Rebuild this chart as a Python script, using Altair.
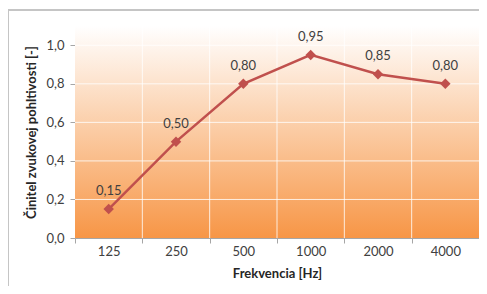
import altair as alt
import pandas as pd

freqs = ["125", "250", "500", "1000", "2000", "4000"]
alpha = [0.15, 0.50, 0.80, 0.95, 0.85, 0.80]
y_ticks = [0.0, 0.2, 0.4, 0.6, 0.8, 1.0]

df = pd.DataFrame({"f": freqs, "a": alpha})
grid_y = pd.DataFrame({"v": y_ticks[1:]})
grid_x = pd.DataFrame({"f": freqs[1:]})

W, H = 404, 212
FONT = "Lato"
TXT = "#404040"
LINE = "#c0504d"

xscale = alt.Scale(domain=freqs, paddingInner=0, paddingOuter=0)
yscale = alt.Scale(domain=[0, 1.1], nice=False)

bg = alt.Chart(df).mark_rect(
    fill=alt.LinearGradient(
        gradient="linear", x1=0, x2=0, y1=0, y2=1,
        stops=[alt.GradientStop(offset=0, color="#ffffff"),
               alt.GradientStop(offset=1, color="#f79646")],
    )
).encode(x=alt.value(0), x2=alt.value(W), y=alt.value(0), y2=alt.value(H))

border = alt.Chart(df).mark_rule(color="#c4c4c4", strokeWidth=1.5).encode(
    x=alt.value(-67), x2=alt.value(420), y=alt.value(-16)
)
border_l = alt.Chart(df).mark_rule(color="#c4c4c4", strokeWidth=1.5).encode(
    x=alt.value(-67), y=alt.value(-16), y2=alt.value(300)
)

hgrid = alt.Chart(grid_y).mark_rule(color="#ffffff", strokeWidth=1, opacity=0.8).encode(
    y=alt.Y("v:Q", scale=yscale), x=alt.value(0), x2=alt.value(W)
)
vgrid = alt.Chart(grid_x).mark_rule(color="#ffffff", strokeWidth=1, opacity=0.8).encode(
    x=alt.X("f:N", scale=xscale, bandPosition=0), y=alt.value(0), y2=alt.value(H)
)

base = alt.Chart(df).encode(
    x=alt.X("f:N", scale=xscale, sort=freqs,
            axis=alt.Axis(title="Frekvencia [Hz]", labelAngle=0, labelAlign="center",
                          tickBand="extent",
                          grid=False, domainColor="#a6a6a6", tickColor="#a6a6a6",
                          tickSize=5, labelPadding=8, titlePadding=9)),
    y=alt.Y("a:Q", scale=yscale,
            axis=alt.Axis(title="Činitel zvukovej pohltivosti [-]", values=y_ticks,
                          labelExpr="replace(format(datum.value, '.1f'), '.', ',')",
                          grid=False, domainColor="#a6a6a6", tickColor="#a6a6a6",
                          tickSize=5, labelPadding=6, titlePadding=7)),
)

line = base.mark_line(color=LINE, strokeWidth=2.5)
pts = base.mark_point(shape="diamond", filled=True, size=110, color=LINE, opacity=1)
labels = base.mark_text(dy=-18, font=FONT, fontSize=13, color=TXT).encode(
    text=alt.Text("lbl:N")
).transform_calculate(lbl="replace(format(datum.a, '.2f'), '.', ',')")

chart = alt.layer(bg, border, border_l, hgrid, vgrid, line, pts, labels).properties(
    width=W, height=H,
    autosize=alt.AutoSizeParams(type="none"),
    padding={"left": 67, "top": 18, "right": 0, "bottom": 48},
).configure_view(strokeWidth=0).configure_axis(
    labelFont=FONT, labelFontSize=13, labelColor=TXT,
    titleFont=FONT, titleFontSize=13, titleColor="#262626", titleFontWeight="bold",
)

chart.save("out.html", embed_options={"renderer": "svg", "actions": False})
